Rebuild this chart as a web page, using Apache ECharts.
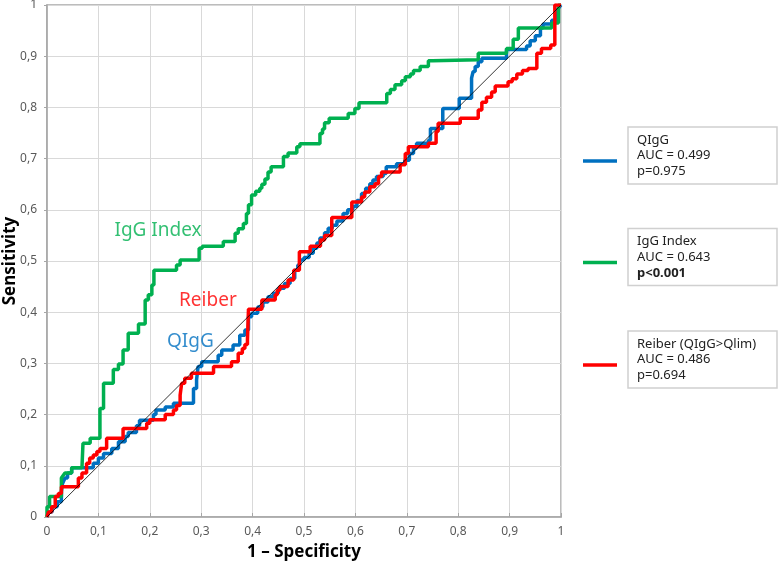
<!DOCTYPE html>
<html><head><meta charset="utf-8">
<script src="https://cdn.jsdelivr.net/npm/echarts@6/dist/echarts.min.js"></script>
<style>html,body{margin:0;padding:0;background:#fff}#c{width:778px;height:563px}</style>
</head><body><div id="c"></div>
<script>
// ---- data (1 - specificity, sensitivity) ----
const qiggPoints = [[0,0],[0.003,0.01],[0.01,0.01],[0.01,0.02],[0.02,0.02],[0.02,0.03],[0.028,0.03],[0.028,0.05],[0.03,0.065],[0.035,0.076],[0.04,0.076],[0.04,0.086],[0.048,0.086],[0.048,0.096],[0.09,0.096],[0.09,0.105],[0.1,0.105],[0.1,0.115],[0.11,0.115],[0.11,0.124],[0.126,0.124],[0.126,0.134],[0.139,0.134],[0.139,0.147],[0.152,0.147],[0.152,0.157],[0.158,0.157],[0.158,0.165],[0.174,0.165],[0.174,0.178],[0.18,0.178],[0.18,0.189],[0.207,0.189],[0.207,0.2],[0.212,0.2],[0.212,0.209],[0.23,0.209],[0.23,0.215],[0.246,0.215],[0.246,0.222],[0.285,0.222],[0.285,0.251],[0.291,0.251],[0.291,0.268],[0.294,0.268],[0.294,0.294],[0.301,0.294],[0.301,0.303],[0.333,0.303],[0.333,0.316],[0.34,0.316],[0.34,0.326],[0.362,0.326],[0.362,0.336],[0.375,0.336],[0.375,0.355],[0.385,0.355],[0.385,0.365],[0.392,0.365],[0.392,0.391],[0.398,0.391],[0.398,0.398],[0.41,0.398],[0.41,0.41],[0.42,0.41],[0.42,0.42],[0.43,0.42],[0.43,0.43],[0.44,0.43],[0.44,0.437],[0.45,0.437],[0.45,0.447],[0.462,0.447],[0.462,0.456],[0.473,0.456],[0.473,0.466],[0.482,0.466],[0.482,0.482],[0.488,0.482],[0.488,0.492],[0.492,0.492],[0.492,0.502],[0.5,0.502],[0.5,0.507],[0.51,0.507],[0.51,0.515],[0.518,0.515],[0.518,0.525],[0.525,0.525],[0.525,0.535],[0.531,0.535],[0.531,0.545],[0.54,0.545],[0.54,0.555],[0.547,0.555],[0.547,0.564],[0.555,0.564],[0.555,0.57],[0.564,0.57],[0.564,0.578],[0.576,0.578],[0.576,0.593],[0.585,0.593],[0.585,0.6],[0.595,0.6],[0.595,0.607],[0.603,0.607],[0.603,0.618],[0.612,0.618],[0.612,0.632],[0.62,0.632],[0.62,0.642],[0.628,0.642],[0.628,0.651],[0.634,0.651],[0.634,0.658],[0.641,0.658],[0.641,0.665],[0.654,0.665],[0.654,0.671],[0.66,0.671],[0.66,0.684],[0.68,0.684],[0.68,0.69],[0.696,0.69],[0.696,0.697],[0.705,0.697],[0.705,0.71],[0.713,0.71],[0.713,0.72],[0.719,0.72],[0.719,0.73],[0.742,0.73],[0.742,0.736],[0.746,0.736],[0.746,0.759],[0.77,0.759],[0.77,0.798],[0.802,0.798],[0.802,0.818],[0.826,0.818],[0.826,0.857],[0.829,0.857],[0.829,0.87],[0.833,0.87],[0.833,0.88],[0.839,0.88],[0.839,0.889],[0.846,0.889],[0.846,0.896],[0.894,0.896],[0.894,0.913],[0.933,0.913],[0.933,0.92],[0.94,0.92],[0.94,0.93],[0.95,0.93],[0.95,0.94],[0.96,0.94],[0.96,0.955],[0.965,0.955],[0.965,0.963],[0.982,0.963],[0.982,0.97],[0.992,0.97],[0.992,0.99],[1,1]];

const iggIndexPoints = [[0,0],[0,0.02],[0.005,0.02],[0.005,0.04],[0.028,0.04],[0.028,0.076],[0.035,0.086],[0.048,0.086],[0.048,0.096],[0.068,0.096],[0.07,0.144],[0.084,0.144],[0.084,0.154],[0.103,0.154],[0.103,0.212],[0.11,0.212],[0.11,0.261],[0.129,0.261],[0.129,0.288],[0.139,0.288],[0.139,0.299],[0.148,0.299],[0.148,0.326],[0.158,0.326],[0.158,0.359],[0.178,0.359],[0.178,0.377],[0.191,0.377],[0.191,0.424],[0.197,0.424],[0.197,0.434],[0.204,0.434],[0.204,0.453],[0.208,0.453],[0.208,0.482],[0.252,0.482],[0.252,0.492],[0.259,0.492],[0.259,0.502],[0.296,0.502],[0.296,0.525],[0.302,0.525],[0.302,0.529],[0.343,0.529],[0.343,0.538],[0.366,0.538],[0.366,0.554],[0.372,0.554],[0.372,0.563],[0.382,0.563],[0.382,0.573],[0.388,0.573],[0.388,0.593],[0.392,0.593],[0.392,0.61],[0.398,0.61],[0.398,0.629],[0.406,0.629],[0.406,0.636],[0.414,0.636],[0.414,0.642],[0.418,0.642],[0.418,0.65],[0.424,0.65],[0.424,0.66],[0.43,0.66],[0.43,0.674],[0.436,0.674],[0.436,0.684],[0.46,0.684],[0.46,0.704],[0.469,0.704],[0.469,0.711],[0.486,0.711],[0.486,0.723],[0.492,0.723],[0.492,0.729],[0.531,0.729],[0.531,0.749],[0.536,0.749],[0.536,0.758],[0.54,0.758],[0.54,0.77],[0.549,0.77],[0.549,0.779],[0.586,0.779],[0.586,0.788],[0.599,0.788],[0.599,0.798],[0.607,0.798],[0.607,0.809],[0.661,0.809],[0.661,0.827],[0.668,0.827],[0.668,0.835],[0.677,0.835],[0.677,0.844],[0.69,0.844],[0.69,0.852],[0.697,0.852],[0.697,0.86],[0.707,0.86],[0.707,0.865],[0.713,0.865],[0.713,0.872],[0.726,0.872],[0.726,0.88],[0.742,0.88],[0.742,0.891],[0.75,0.891],[0.75,0.893],[0.839,0.893],[0.839,0.906],[0.894,0.906],[0.894,0.915],[0.907,0.915],[0.907,0.933],[0.917,0.933],[0.917,0.955],[0.982,0.955],[0.982,0.965],[0.995,0.965],[0.995,1],[1,1]];

const reiberPoints = [[0,0],[0.003,0.01],[0.009,0.01],[0.009,0.02],[0.016,0.02],[0.016,0.04],[0.022,0.04],[0.022,0.046],[0.028,0.046],[0.028,0.059],[0.061,0.059],[0.061,0.076],[0.068,0.076],[0.068,0.086],[0.077,0.086],[0.077,0.105],[0.083,0.105],[0.083,0.115],[0.09,0.115],[0.09,0.121],[0.097,0.121],[0.097,0.128],[0.103,0.128],[0.103,0.134],[0.116,0.134],[0.116,0.154],[0.148,0.154],[0.148,0.173],[0.194,0.173],[0.194,0.183],[0.2,0.183],[0.2,0.19],[0.23,0.19],[0.23,0.2],[0.246,0.2],[0.246,0.209],[0.252,0.209],[0.252,0.218],[0.259,0.218],[0.259,0.238],[0.262,0.238],[0.262,0.261],[0.268,0.261],[0.268,0.271],[0.281,0.271],[0.281,0.281],[0.324,0.281],[0.324,0.294],[0.359,0.294],[0.359,0.303],[0.372,0.303],[0.372,0.32],[0.38,0.32],[0.38,0.329],[0.385,0.329],[0.385,0.337],[0.39,0.337],[0.39,0.346],[0.392,0.346],[0.392,0.406],[0.418,0.406],[0.418,0.424],[0.444,0.424],[0.444,0.434],[0.448,0.434],[0.448,0.443],[0.453,0.443],[0.453,0.45],[0.469,0.45],[0.469,0.463],[0.48,0.463],[0.48,0.482],[0.491,0.482],[0.491,0.518],[0.512,0.518],[0.512,0.529],[0.532,0.529],[0.532,0.541],[0.54,0.541],[0.54,0.55],[0.554,0.55],[0.554,0.585],[0.593,0.585],[0.593,0.615],[0.612,0.615],[0.612,0.625],[0.618,0.625],[0.618,0.635],[0.628,0.635],[0.628,0.645],[0.638,0.645],[0.638,0.651],[0.645,0.651],[0.645,0.665],[0.651,0.665],[0.651,0.674],[0.687,0.674],[0.687,0.688],[0.697,0.688],[0.697,0.71],[0.703,0.71],[0.703,0.723],[0.742,0.723],[0.742,0.73],[0.757,0.73],[0.757,0.753],[0.761,0.753],[0.761,0.769],[0.804,0.769],[0.804,0.779],[0.839,0.779],[0.839,0.795],[0.846,0.795],[0.846,0.81],[0.855,0.81],[0.855,0.82],[0.865,0.82],[0.865,0.83],[0.872,0.83],[0.872,0.842],[0.897,0.842],[0.897,0.85],[0.905,0.85],[0.905,0.856],[0.914,0.856],[0.914,0.865],[0.925,0.865],[0.925,0.872],[0.936,0.872],[0.936,0.876],[0.953,0.876],[0.953,0.906],[0.962,0.906],[0.962,0.915],[0.98,0.915],[0.98,0.922],[0.988,0.922],[0.988,1],[1,1]];

const referencePoints = [[0,0],[1,1]];

const seriesNames = ['QIgG', 'IgG Index', 'Reiber (QIgG>Qlim)'];
const annotationTexts = ['IgG Index', 'Reiber', 'QIgG'];
const annotationPositions = [[0.216, 0.559], [0.313, 0.422], [0.279, 0.342]];
const legendLines = [
  ['QIgG', 'AUC = 0.499', 'p=0.975'],
  ['IgG Index', 'AUC = 0.643', 'p<0.001'],
  ['Reiber (QIgG>Qlim)', 'AUC = 0.486', 'p=0.694']
];
const xTitle = '1 \u2013 Specificity';
const yTitle = 'Sensitivity';

const colors = ['#0070C0', '#00B050', '#FF0000'];
const annColors = ['#00B050', '#FF0000', '#0070C0'];
const FONT = '"Noto Sans", sans-serif';

const chart = echarts.init(document.getElementById('c'), null, {renderer: 'canvas'});

function fmt(v) {
  const r = Math.round(v * 10) / 10;
  return String(r).replace('.', ',');
}

const axisCommon = {
  type: 'value', min: 0, max: 1, interval: 0.1,
  axisLine: {show: true, lineStyle: {color: '#a6a6a6', width: 1.5}},
  splitLine: {show: true, lineStyle: {color: '#d9d9d9', width: 1}},
  axisLabel: {formatter: fmt, color: '#595959', fontSize: 12, fontFamily: FONT},
  nameMoveOverlap: false,
  nameTextStyle: {color: '#000', fontSize: 17, fontWeight: 'bold', fontFamily: FONT}
};

// legend boxes
const graphics = [];
const boxTops = [127, 228.5, 331];
legendLines.forEach((lines, i) => {
  const top = boxTops[i];
  graphics.push({
    type: 'rect', shape: {x: 628, y: top, width: 149, height: 57},
    style: {fill: '#fff', stroke: '#d0d0d0', lineWidth: 1.5}
  });
  graphics.push({
    type: 'line', shape: {x1: 583, y1: top + 34, x2: 617, y2: top + 34},
    style: {stroke: colors[i], lineWidth: 3.5}
  });
  lines.forEach((t, j) => {
    graphics.push({
      type: 'text', x: 637, y: top + 13 + j * 15.7,
      style: {text: t, fill: '#222', font: ((i === 1 && j === 2) ? 'bold ' : '') + '13px ' + FONT, verticalAlign: 'middle', align: 'left'}
    });
  });
});

const option = {
  animation: false,
  backgroundColor: '#fff',
  grid: {left: 47, right: 217, top: 5, bottom: 46, outerBoundsMode: 'none', containLabel: false, show: true, borderColor: '#a6a6a6', borderWidth: 1.5},
  xAxis: Object.assign({}, axisCommon, {
    name: xTitle, nameLocation: 'middle', nameGap: 27,
    axisTick: {show: true, inside: true, length: 4, lineStyle: {color: '#a6a6a6'}},
    axisLabel: Object.assign({}, axisCommon.axisLabel, {margin: 9})
  }),
  yAxis: Object.assign({}, axisCommon, {
    name: yTitle, nameLocation: 'middle', nameGap: 28,
    axisTick: {show: true, inside: false, length: 3, lineStyle: {color: '#a6a6a6'}},
    axisLabel: Object.assign({}, axisCommon.axisLabel, {margin: 10})
  }),
  series: [
    {name: seriesNames[0], type: 'line', data: qiggPoints, showSymbol: false, lineStyle: {color: colors[0], width: 3.5}, z: 2},
    {name: seriesNames[1], type: 'line', data: iggIndexPoints, showSymbol: false, lineStyle: {color: colors[1], width: 3.5}, z: 3},
    {name: seriesNames[2], type: 'line', data: reiberPoints, showSymbol: false, lineStyle: {color: colors[2], width: 3.5}, z: 4},
    {name: 'ref', type: 'line', data: referencePoints, showSymbol: false, lineStyle: {color: '#000', width: 0.8}, z: 5},
    {
      name: 'annotations', type: 'scatter', symbolSize: 0, silent: true, z: 6,
      data: annotationPositions.map((p, i) => ({
        value: p,
        label: {show: true, position: 'inside', formatter: annotationTexts[i], color: annColors[i], fontSize: 19, fontFamily: FONT}
      }))
    }
  ],
  graphic: graphics
};
chart.setOption(option);
</script>
</body></html>
